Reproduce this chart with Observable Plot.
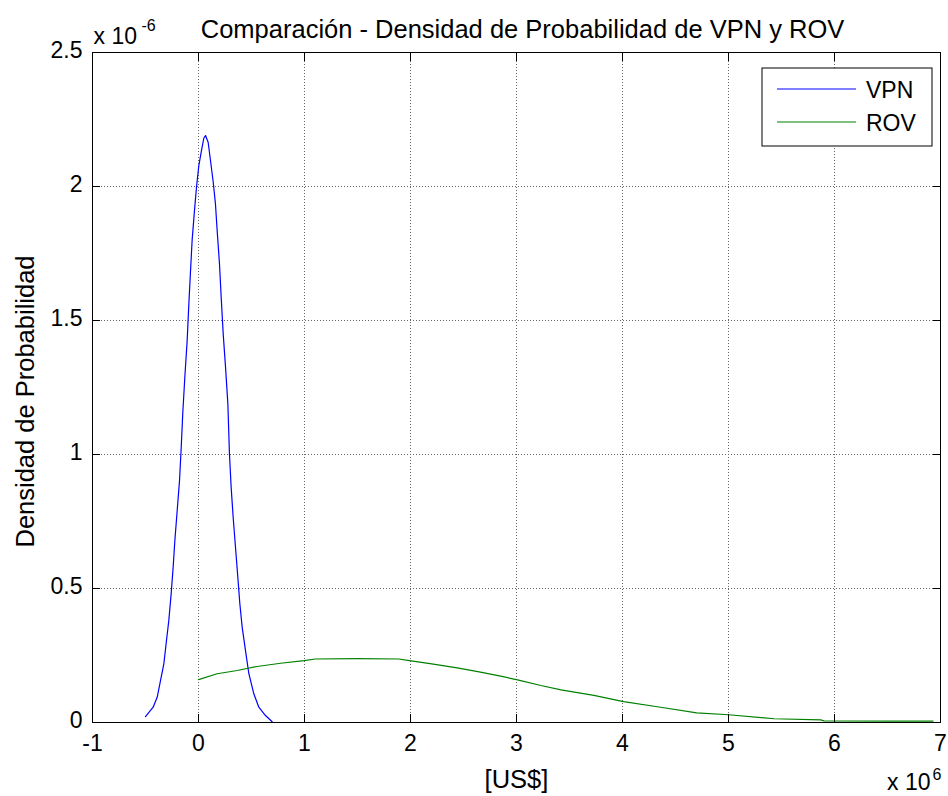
<!DOCTYPE html>
<html><head><meta charset="utf-8">
<script src="https://cdn.jsdelivr.net/npm/d3@7"></script>
<script src="https://cdn.jsdelivr.net/npm/@observablehq/plot@0.6"></script>
<style>html,body{margin:0;padding:0;background:#fff;}</style>
</head><body><div id="chart"></div>
<script>
// Values: x in units of 10^6 US$, y in units of 10^-6
const xTicks = [-1, 0, 1, 2, 3, 4, 5, 6, 7];
const yTicks = [0, 0.5, 1, 1.5, 2, 2.5];
const titleText = "Comparación - Densidad de Probabilidad de VPN y ROV";
const xLabel = "[US$]";
const yLabel = "Densidad de Probabilidad";
const seriesNames = ["VPN", "ROV"];
const seriesColors = ["#0000ff", "#008000"];

const vpnX = [-0.50,-0.428,-0.39,-0.358,-0.327,-0.302,-0.28,-0.258,-0.239,-0.223,-0.201,-0.179,-0.163,-0.148,-0.129,-0.107,-0.091,-0.075,-0.06,-0.038,-0.019,0.003,0.028,0.05,0.066,0.091,0.113,0.139,0.16,0.176,0.198,0.214,0.233,0.255,0.277,0.292,0.308,0.327,0.349,0.371,0.39,0.412,0.443,0.475,0.522,0.569,0.632,0.695];
const vpnY = [0.022,0.057,0.094,0.157,0.219,0.306,0.381,0.48,0.58,0.679,0.791,0.903,1.027,1.158,1.288,1.425,1.562,1.687,1.80,1.91,1.997,2.078,2.134,2.18,2.19,2.165,2.097,2.016,1.935,1.836,1.711,1.587,1.45,1.326,1.189,1.003,0.878,0.766,0.654,0.542,0.443,0.356,0.269,0.182,0.107,0.057,0.026,0.003];

const rovX = [0,0.176,0.365,0.553,0.774,0.997,1.10,1.5,1.89,1.99,2.2,2.44,2.66,2.85,3.01,3.23,3.42,3.73,4.01,4.36,4.70,5.0,5.43,5.87,5.9,6.5,6.93];
const rovY = [0.160,0.182,0.194,0.209,0.221,0.231,0.237,0.238,0.237,0.231,0.219,0.204,0.188,0.173,0.159,0.138,0.122,0.101,0.078,0.057,0.036,0.029,0.014,0.010,0.006,0.005,0.005];

const vpn = vpnX.map((x, i) => ({x, y: vpnY[i]}));
const rov = rovX.map((x, i) => ({x, y: rovY[i]}));

const FONT = "Liberation Sans, Arial, Helvetica, sans-serif";
const FS = 23;      // tick labels, legend
const FL = 25.5;    // title and axis labels
const FSUP = 16;    // exponent
const gridStyle = {stroke: "#666", strokeOpacity: 1, strokeDasharray: "1,2", strokeWidth: 1};
const TK = 8;

const chart = Plot.plot({
  width: 948, height: 796,
  marginLeft: 92, marginRight: 8, marginTop: 52, marginBottom: 74,
  style: {fontFamily: FONT, fontSize: FS + "px", background: "#fff", color: "#000", overflow: "visible"},
  x: {domain: [-1, 7]},
  y: {domain: [0, 2.5]},
  marks: [
    Plot.gridX(xTicks, gridStyle),
    Plot.gridY(yTicks, gridStyle),
    Plot.line(vpn, {x: "x", y: "y", stroke: seriesColors[0], strokeWidth: 1.2}),
    Plot.line(rov, {x: "x", y: "y", stroke: seriesColors[1], strokeWidth: 1.2}),
    Plot.frame({stroke: "#000", strokeWidth: 1}),
    // inward ticks (drawn outward then shifted inside)
    Plot.axisX(xTicks, {anchor: "bottom", tickSize: TK, dy: -TK, text: null, label: null, stroke: "#000"}),
    Plot.axisX(xTicks, {anchor: "top", tickSize: TK, dy: TK, text: null, label: null, stroke: "#000"}),
    Plot.axisY(yTicks, {anchor: "left", tickSize: TK, dx: TK, text: null, label: null, stroke: "#000"}),
    Plot.axisY(yTicks, {anchor: "right", tickSize: TK, dx: -TK, text: null, label: null, stroke: "#000"}),
    // tick labels
    Plot.axisX(xTicks, {anchor: "bottom", tickSize: 0, tickPadding: 12, label: null, tickFormat: d => String(d), fontSize: FS}),
    Plot.axisY(yTicks, {anchor: "left", tickSize: 0, tickPadding: 10, dy: -2, label: null, tickFormat: d => String(d), fontSize: FS}),
    // titles
    Plot.text([titleText], {frameAnchor: "top", textAnchor: "middle", lineAnchor: "bottom", dx: 6, dy: -15, fontSize: FL}),
    Plot.text([xLabel], {frameAnchor: "bottom", textAnchor: "middle", lineAnchor: "bottom", dy: 65, fontSize: FL}),
    Plot.text([yLabel], {frameAnchor: "left", textAnchor: "middle", lineAnchor: "bottom", rotate: -90, dx: -59, dy: 14, fontSize: FL}),
    // multipliers
    Plot.text(["x 10"], {frameAnchor: "top-left", textAnchor: "start", lineAnchor: "bottom", dx: 1, dy: -9, fontSize: FS}),
    Plot.text(["-6"], {frameAnchor: "top-left", textAnchor: "start", lineAnchor: "bottom", dx: 49, dy: -22, fontSize: FSUP}),
    Plot.text(["x 10"], {frameAnchor: "bottom-right", textAnchor: "end", lineAnchor: "bottom", dx: -10, dy: 67, fontSize: FS}),
    Plot.text(["6"], {frameAnchor: "bottom-right", textAnchor: "start", lineAnchor: "bottom", dx: -8, dy: 57, fontSize: FSUP})
  ]
});
document.getElementById("chart").appendChild(chart);

// legend box (inside plot area, top-right)
const svg = d3.select(chart);
const lg = svg.append("g").attr("font-family", FONT).attr("font-size", FS).attr("text-anchor", "start");
lg.append("rect").attr("x", 762).attr("y", 68).attr("width", 170).attr("height", 78)
  .attr("fill", "#fff").attr("stroke", "#000").attr("stroke-width", 1);
seriesNames.forEach((name, i) => {
  const yy = 89 + i * 33;
  lg.append("line").attr("x1", 777).attr("x2", 856).attr("y1", yy).attr("y2", yy)
    .attr("stroke", seriesColors[i]).attr("stroke-width", 1.2);
  lg.append("text").attr("x", 866).attr("y", yy + 9).attr("text-anchor", "start").attr("fill", "#000").text(name);
});
</script>
</body></html>
